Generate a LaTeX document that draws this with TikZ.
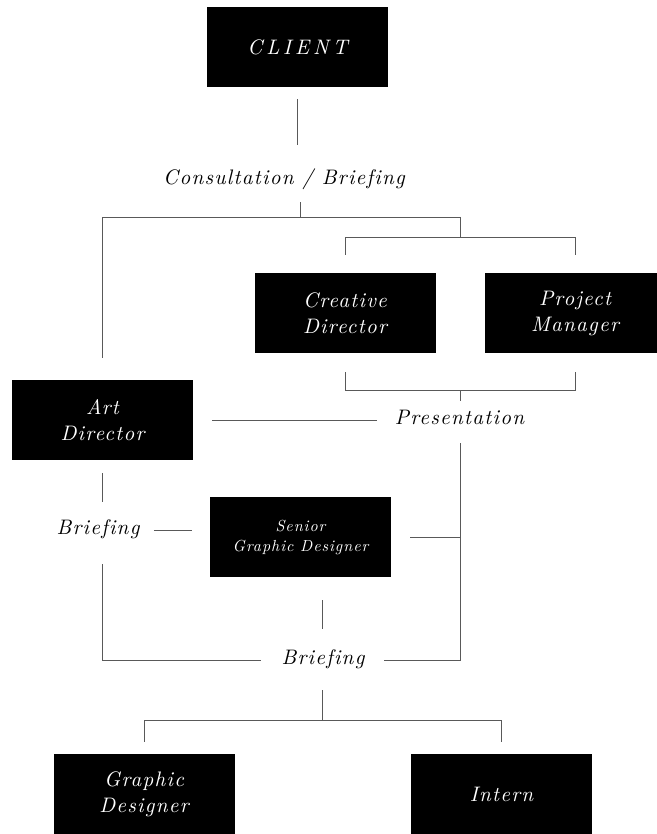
\documentclass[tikz,border=0pt]{standalone}
\usepackage{fontspec}
\usepackage{tikz}
\usetikzlibrary{calc}
\tikzset{every picture/.style={line width=0.8pt}}
\newfontfamily\rolefamily[Extension=.otf, UprightFont=*-regular, ItalicFont=*-italic, Ligatures=NoCommon, LetterSpace=6]{lmroman10}
\newfontfamily\capsfamily[Extension=.otf, UprightFont=*-regular, ItalicFont=*-italic, LetterSpace=18]{lmroman10}
\newcommand{\roleface}{\rolefamily\itshape\fontsize{21}{26}\selectfont}
\newcommand{\capsface}{\capsfamily\itshape\fontsize{21}{26}\selectfont}
\newcommand{\smallface}{\rolefamily\itshape\fontsize{16}{20}\selectfont}
\tikzset{
  box/.style={fill=black, text=white, minimum width=181pt, minimum height=80pt,
    inner sep=0pt, align=center, font=\roleface},
  lbl/.style={inner sep=0pt, text height=14pt, text depth=5pt, font=\roleface},
  link/.style={draw=black!65},
}

\begin{document}
\begin{tikzpicture}[x=1pt,y=1pt,yscale=-1]
      \useasboundingbox (0,0) rectangle (656,834);
      % boxes
      \node[box, font=\capsface] (client) at (297.5,47) {CLIENT};
      \node[box] (cd) at (345,313) {Creative\\Director};
      \node[box] (pm) at (575,313) {Project\\Manager};
      \node[box] (art) at (102.5,420) {Art\\Director};
      \node[box, font=\smallface] (sgd) at (300.5,537) {Senior\\Graphic Designer};
      \node[box] (gd) at (144,794) {Graphic\\Designer};
      \node[box] (intern) at (501.5,794) {Intern};
      % labels
      \node[lbl] (consult) at (284,180) {Consultation / Briefing};
      \node[lbl] (pres) at (459.5,420) {Presentation};
      \node[lbl] (brief1) at (98,530) {Briefing};
      \node[lbl] (brief2) at (323,660) {Briefing};
      % junctions
      \coordinate (split) at (300,217);
      \coordinate (upper) at (460,237);
      \coordinate (lower) at (460,390);
      \coordinate (trunk) at (460,660);
      \coordinate (team) at (322,720);
      % client to teams
      \draw[link, shorten <=12pt, shorten >=25pt] (client.south) -- (client.south |- consult.north);
      \draw[link, shorten >=12.5pt] (split) -- (split |- consult.south);
      \draw[link, shorten >=22pt] (split -| upper) -- (split -| art.north) -- (art.north);
      \draw[link] (split -| upper) -- (upper);
      \draw[link, shorten <=18pt, shorten >=18pt] (cd.north) -- (cd.north |- upper) -- (pm.north |- upper) -- (pm.north);
      \draw[link, shorten <=19pt, shorten >=19pt] (cd.south) -- (cd.south |- lower) -- (pm.south |- lower) -- (pm.south);
      \draw[link, shorten >=9.5pt] (lower) -- (lower |- pres.north);
      \draw[link, shorten <=19pt, shorten >=17pt] (art.east) -- (art.east -| pres.west);
      % briefing of the designers
      \draw[link, shorten <=13.5pt, shorten >=19pt] (pres.south -| trunk) -- (trunk) -- (brief2.east);
      \draw[link, shorten <=19pt] (sgd.east) -- (sgd.east -| trunk);
      \draw[link, shorten <=13pt, shorten >=18.5pt] (art.south) -- (art.south |- brief1.north);
      \draw[link, shorten <=14pt, shorten >=18pt] (brief1.east) -- (sgd.west |- brief1.east);
      \draw[link, shorten <=24.5pt, shorten >=20pt] (brief1.south -| art.south) -- (art.south |- brief2.west) -- (brief2.west);
      \draw[link, shorten <=23pt, shorten >=21.5pt] (sgd.south -| team) -- (team |- brief2.north);
      \draw[link, shorten <=20.5pt] (brief2.south -| team) -- (team);
      \draw[link, shorten <=12pt, shorten >=12pt] (gd.north) -- (gd.north |- team) -- (intern.north |- team) -- (intern.north);
\end{tikzpicture}
\end{document}
